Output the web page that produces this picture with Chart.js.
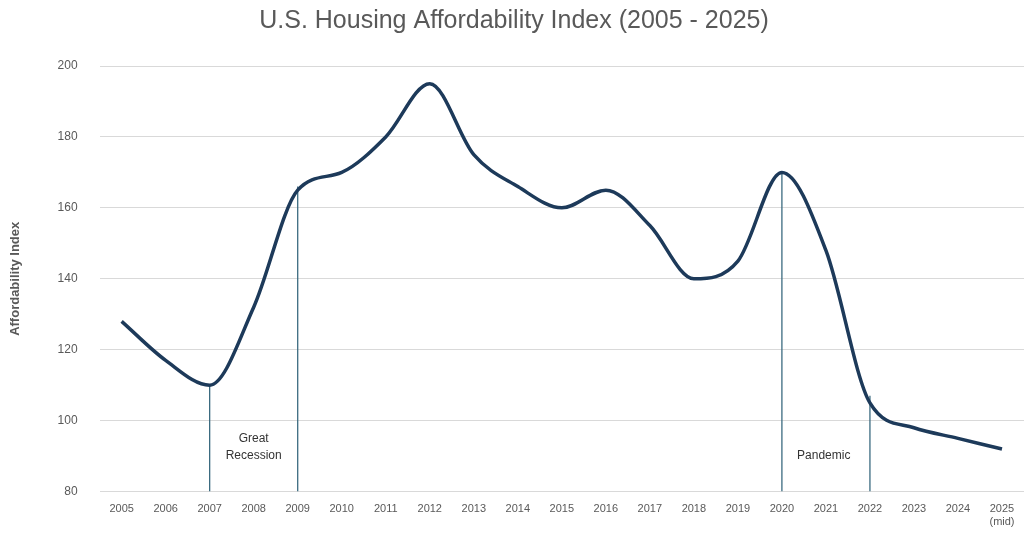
<!DOCTYPE html>
<html><head><meta charset="utf-8">
<script src="https://cdn.jsdelivr.net/npm/chart.js@4"></script>
<style>html,body{margin:0;background:#fff}#wrap{width:1024px;height:536px}</style>
</head><body><div id="wrap"><canvas id="c"></canvas></div>
<script>
const years = ['2005','2006','2007','2008','2009','2010','2011','2012','2013','2014','2015','2016','2017','2018','2019','2020','2021','2022','2023','2024',['2025','(mid)']];
const index = [128,117,110,132,165,170,180,195,175,166,160,165,155,140,145,170,148,105,98,95,92];
// event markers: [category index, top value]
const markers = [[2,110],[4,166],[15,170],[17,107]];
const notes = [{x:3,y:95,t:'Great'},{x:3,y:90,t:'Recession'},{x:15.95,y:90,t:'Pandemic'}];

const markerSets = markers.map(([i,v]) => ({
  data: [{x:i,y:v},{x:i,y:80}], borderColor:'#3b6b80', borderWidth:1.3,
  pointRadius:0, tension:0, parsing:false
}));

const notesPlugin = {
  id:'notes',
  afterDatasetsDraw(chart){
    const {ctx, scales:{x,y}} = chart;
    ctx.save();
    ctx.font = '12px "Liberation Sans", Arial';
    ctx.fillStyle = '#333';
    ctx.textAlign = 'center'; ctx.textBaseline = 'middle';
    notes.forEach(n => ctx.fillText(n.t, x.getPixelForValue(n.x), y.getPixelForValue(n.y)));
    ctx.restore();
  }
};

new Chart(document.getElementById('c'), {
  type:'line',
  data:{
    labels: years,
    datasets:[{
      data: index, borderColor:'#1d3a5a', borderWidth:3.5, pointRadius:0,
      tension:0.4, cubicInterpolationMode:'monotone'
    }, ...markerSets]
  },
  options:{
    responsive:true, maintainAspectRatio:false, animation:false,
    layout:{padding:{left:4,right:0,top:4,bottom:4}},
    plugins:{
      legend:{display:false}, tooltip:{enabled:false},
      title:{display:true, text:'U.S. Housing Affordability Index (2005 - 2025)',
        color:'#595959', font:{size:25, family:'"Liberation Sans", Arial', weight:'normal'},
        padding:{top:2,bottom:30}}
    },
    scales:{
      x:{ type:'category', offset:true,
        grid:{display:false}, border:{display:false},
        ticks:{color:'#595959', font:{size:11}, maxRotation:0, autoSkip:false}},
      y:{ min:80, max:200,
        ticks:{stepSize:20, color:'#595959', font:{size:12}, padding:22},
        grid:{color:'#d9d9d9', drawTicks:false}, border:{display:false},
        title:{display:true, text:'Affordability Index', color:'#595959',
          font:{size:13, weight:'bold'}, padding:{bottom:12}}}
    }
  },
  plugins:[notesPlugin]
});
</script></body></html>
